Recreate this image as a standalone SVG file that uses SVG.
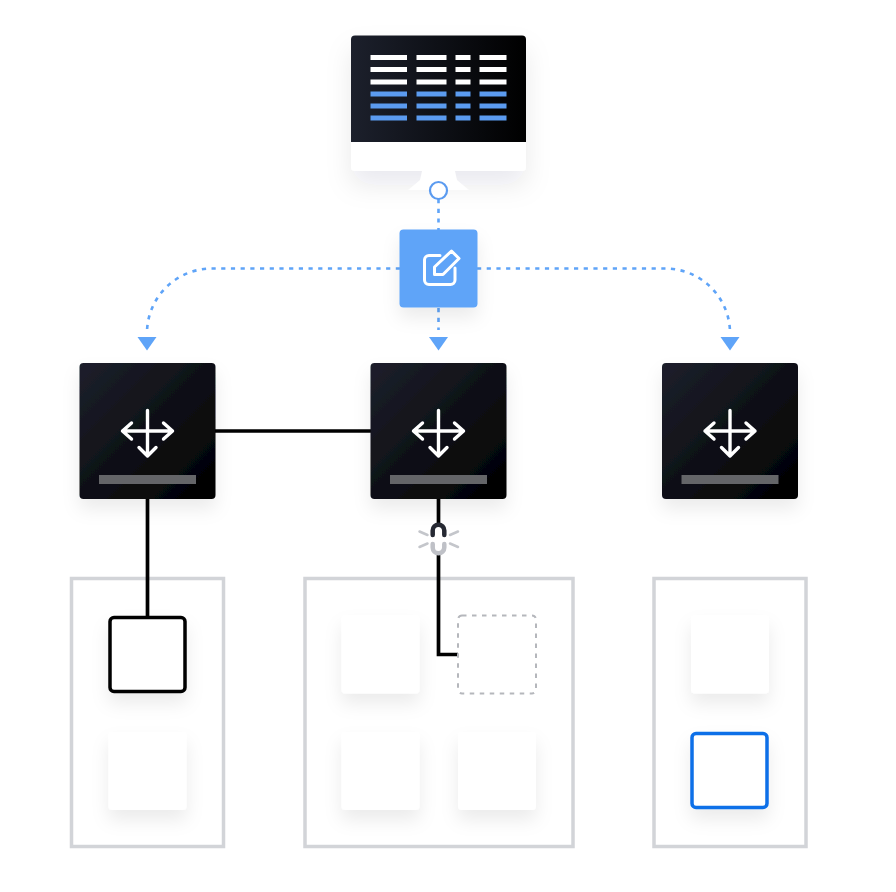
<svg xmlns="http://www.w3.org/2000/svg" width="896" height="892" viewBox="0 0 896 892">
  <defs>
    <linearGradient id="dark" x1="0" y1="0" x2="1" y2="1">
      <stop offset="0" stop-color="#1d202c"/>
      <stop offset="1" stop-color="#000000"/>
    </linearGradient>
    <linearGradient id="screen" x1="0" y1="0" x2="1" y2="0">
      <stop offset="0" stop-color="#1c202c"/>
      <stop offset="1" stop-color="#000000"/>
    </linearGradient>
    <filter id="shadow" x="-40%" y="-40%" width="180%" height="190%">
      <feDropShadow dx="0" dy="10" stdDeviation="9" flood-color="#20242c" flood-opacity="0.08"/>
    </filter>
    <filter id="shadowWide" x="-25%" y="-25%" width="150%" height="180%">
      <feDropShadow dx="0" dy="14" stdDeviation="13" flood-color="#20242c" flood-opacity="0.085"/>
    </filter>
    <symbol id="move" viewBox="0 0 56 56" overflow="visible">
      <path d="M28 4.500V50M3 25H53M12 17L3 25L12 33M44 17L53 25L44 33M19.500 41.500L28 50L36.500 41.500" fill="none" stroke="#fff" stroke-width="3.400" stroke-linecap="round" stroke-linejoin="round"/>
    </symbol>
    <path id="tip" d="M-9.500 0H9.500L0 13.500Z" fill="#5fa4f8"/>
  </defs>
  <style>
    .panel { fill: #fff; stroke: #d2d4d8; stroke-width: 3.500; }
    .tile { fill: #fff; filter: url(#shadow); }
    .bar { fill: #fff; }
    .bar-blue { fill: #5b9bf0; }
    .wire { fill: none; stroke: #000; stroke-width: 3.700; }
    .dots { fill: none; stroke: #5fa4f8; stroke-width: 2.600; stroke-dasharray: 4.200 5.500; }
    .node { fill: url(#dark); filter: url(#shadow); }
    .label { fill: #646568; }
    .spark { fill: none; stroke: #c4c6cb; stroke-width: 2.500; stroke-linecap: round; }
  </style>

  <g id="panels">
    <rect class="panel" x="71.500" y="578.500" width="152" height="268"/>
    <rect class="panel" x="305" y="578.500" width="268" height="268"/>
    <rect class="panel" x="654" y="578.500" width="152" height="268"/>
  </g>

  <g id="monitor">
    <rect x="351" y="35.500" width="175" height="135.500" rx="4" fill="#fff" filter="url(#shadowWide)"/>
    <path d="M422 171H455L457 180L469 190H408L420 180Z" fill="#fff"/>
    <path d="M351 142V39.500a4 4 0 0 1 4-4H522a4 4 0 0 1 4 4V142Z" fill="url(#screen)"/>
    <g class="bar">
      <rect x="370.500" y="55" width="36.500" height="5"/><rect x="416.500" y="55" width="30" height="5"/><rect x="455.500" y="55" width="15" height="5"/><rect x="479.500" y="55" width="27" height="5"/>
      <rect x="370.500" y="67" width="36.500" height="5"/><rect x="416.500" y="67" width="30" height="5"/><rect x="455.500" y="67" width="15" height="5"/><rect x="479.500" y="67" width="27" height="5"/>
      <rect x="370.500" y="79.500" width="36.500" height="5"/><rect x="416.500" y="79.500" width="30" height="5"/><rect x="455.500" y="79.500" width="15" height="5"/><rect x="479.500" y="79.500" width="27" height="5"/>
    </g>
    <g class="bar-blue">
      <rect x="370.500" y="91.500" width="36.500" height="5"/><rect x="416.500" y="91.500" width="30" height="5"/><rect x="455.500" y="91.500" width="15" height="5"/><rect x="479.500" y="91.500" width="27" height="5"/>
      <rect x="370.500" y="103.500" width="36.500" height="5"/><rect x="416.500" y="103.500" width="30" height="5"/><rect x="455.500" y="103.500" width="15" height="5"/><rect x="479.500" y="103.500" width="27" height="5"/>
      <rect x="370.500" y="115.500" width="36.500" height="5"/><rect x="416.500" y="115.500" width="30" height="5"/><rect x="455.500" y="115.500" width="15" height="5"/><rect x="479.500" y="115.500" width="27" height="5"/>
    </g>
  </g>

  <g id="connectors">
    <path class="dots" d="M438.500 199V230"/>
    <path class="dots" d="M438.500 308V330"/>
    <path class="dots" d="M400 268.500H212A65 64.500 0 0 0 147 333"/>
    <path class="dots" d="M477 268.500H665A65 64.500 0 0 1 730 333"/>
    <use href="#tip" x="147" y="337"/>
    <use href="#tip" x="438.500" y="337"/>
    <use href="#tip" x="730" y="337"/>
    <path class="wire" d="M215 431H371"/>
    <path class="wire" d="M147.500 498V618"/>
    <path class="wire" d="M438.500 498V524"/>
    <path class="wire" d="M438.500 555V654.500H458"/>
  </g>

  <circle id="port" cx="438.500" cy="190.500" r="8.500" fill="#fff" stroke="#5b9bf0" stroke-width="2.200"/>

  <g id="edit-node">
    <rect x="399.500" y="229.500" width="78" height="78" rx="4" fill="#5fa4f8" filter="url(#shadow)"/>
    <path d="M440 255.500H429a4.500 4.500 0 0 0-4.500 4.500V280a4.500 4.500 0 0 0 4.500 4.500H450.500a4.500 4.500 0 0 0 4.500-4.500V268" fill="none" stroke="#fff" stroke-width="3" stroke-linecap="round" stroke-linejoin="round"/>
    <path d="M434.500 274.500V267L451.500 251L459 258.500L443 274.500Z" fill="none" stroke="#fff" stroke-width="3" stroke-linejoin="round"/>
  </g>

  <g id="node-left">
    <rect class="node" x="79.500" y="363" width="136" height="136" rx="4"/>
    <use href="#move" x="119.500" y="406" width="56" height="56"/>
    <rect class="label" x="99" y="475" width="97" height="9"/>
  </g>
  <g id="node-center">
    <rect class="node" x="370.500" y="363" width="136" height="136" rx="4"/>
    <use href="#move" x="410.500" y="406" width="56" height="56"/>
    <rect class="label" x="390" y="475" width="97" height="9"/>
  </g>
  <g id="node-right">
    <rect class="node" x="662" y="363" width="136" height="136" rx="4"/>
    <use href="#move" x="702" y="406" width="56" height="56"/>
    <rect class="label" x="681.500" y="475" width="97" height="9"/>
  </g>

  <g id="broken-link">
    <path d="M432.700 535V530.500a5.800 5.800 0 0 1 11.600 0V535" fill="none" stroke="#262933" stroke-width="4.500" stroke-linecap="round"/>
    <path d="M432.700 544V547.500a5.800 5.800 0 0 0 11.600 0V544" fill="none" stroke="#bfc1c7" stroke-width="4.500" stroke-linecap="round"/>
    <path class="spark" d="M419.500 531.500L427.500 535M419.500 547L427.500 543.500M458 531.500L450 535M458 547L450 543.500"/>
  </g>

  <g id="tile-a1">
    <rect x="110" y="617.500" width="75" height="74" rx="4" fill="#fff" stroke="#000" stroke-width="3.500" filter="url(#shadow)"/>
  </g>
  <g id="tile-a2"><rect class="tile" x="108.500" y="732" width="78" height="78" rx="4"/></g>
  <g id="tile-b1"><rect class="tile" x="341.500" y="615.500" width="78" height="78" rx="4"/></g>
  <g id="tile-b2">
    <rect x="458" y="615.500" width="78" height="78" rx="4" fill="#fff" stroke="#b5b7bc" stroke-width="2" stroke-dasharray="4.500 5.500"/>
  </g>
  <g id="tile-b3"><rect class="tile" x="341.500" y="732" width="78" height="78" rx="4"/></g>
  <g id="tile-b4"><rect class="tile" x="458" y="732" width="78" height="78" rx="4"/></g>
  <g id="tile-c1"><rect class="tile" x="691" y="615.500" width="78" height="78" rx="4"/></g>
  <g id="tile-c2">
    <rect x="692" y="733.500" width="75" height="74" rx="4" fill="#fff" stroke="#0f6fe8" stroke-width="3.500" filter="url(#shadow)"/>
  </g>
</svg>
